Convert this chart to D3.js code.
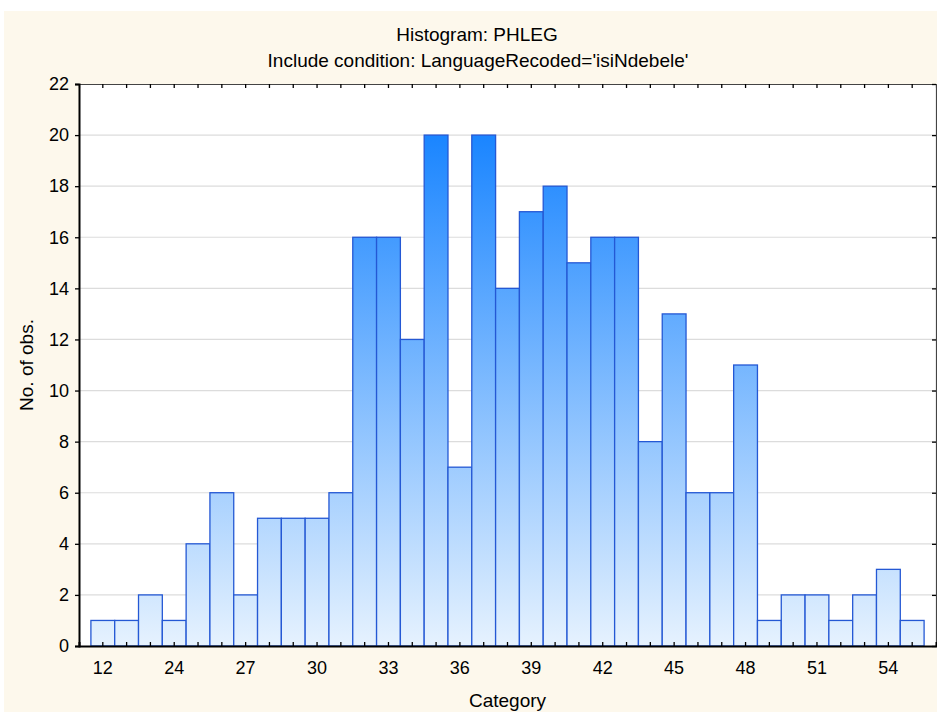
<!DOCTYPE html>
<html lang="en">
	<head>
		<meta charset="utf-8">
		<title>Histogram: PHLEG</title>
		<script type="text/javascript" src="https://d3js.org/d3.v7.min.js"></script>
		<style type="text/css">
			body { margin: 0; background: #ffffff; }
			text { font-family: "Liberation Sans", Arial, sans-serif; fill: #000; }
		</style>
	</head>
	<body>
		<script type="text/javascript">

			// data
			var categories = ["12", "22", "23", "24", "25", "26", "27", "28", "29", "30",
				"31", "32", "33", "34", "35", "36", "37", "38", "39", "40",
				"41", "42", "43", "44", "45", "46", "47", "48", "49", "50",
				"51", "52", "53", "54", "55"];
			var counts = [1, 1, 2, 1, 4, 6, 2, 5, 5, 5,
				6, 16, 16, 12, 20, 7, 20, 14, 17, 18,
				15, 16, 16, 8, 13, 6, 6, 11, 1, 2,
				2, 1, 2, 3, 1];
			var xTickLabels = ["12", "24", "27", "30", "33", "36", "39", "42", "45", "48", "51", "54"];
			var yTicks = [0, 2, 4, 6, 8, 10, 12, 14, 16, 18, 20, 22];

			var w = 937;
			var h = 713;
			var margin = {top: 84, right: 1, bottom: 67, left: 79};

			var svg = d3.select("body")
						.append("svg")
						.attr("width", w)
						.attr("height", h);

			// cream panel
			svg.append("rect")
				.attr("x", 4).attr("y", 11)
				.attr("width", w - 4).attr("height", h - 12)
				.attr("fill", "#fdf8ec");

			var x = d3.scaleBand()
				.domain(categories)
				.range([margin.left, w - margin.right])
				.paddingInner(0)
				.paddingOuter(0.5);

			var y = d3.scaleLinear()
				.domain([0, 22])
				.range([h - margin.bottom, margin.top]);

			// gradient for bars
			var defs = svg.append("defs");
			var grad = defs.append("linearGradient")
				.attr("id", "barGrad")
				.attr("gradientUnits", "userSpaceOnUse")
				.attr("x1", 0).attr("x2", 0)
				.attr("y1", y(0)).attr("y2", y(20));
			grad.append("stop").attr("offset", "0%").attr("stop-color", "#e6f2fe");
			grad.append("stop").attr("offset", "100%").attr("stop-color", "#1a85ff");

			// plot background
			svg.append("rect")
				.attr("x", margin.left).attr("y", margin.top)
				.attr("width", w - margin.right - margin.left)
				.attr("height", y(0) - margin.top)
				.attr("fill", "#ffffff");

			// grid
			svg.append("g")
				.selectAll("line")
				.data(yTicks.slice(1, -1))
				.enter()
				.append("line")
				.attr("x1", margin.left).attr("x2", w - margin.right)
				.attr("y1", function(d){ return y(d); })
				.attr("y2", function(d){ return y(d); })
				.attr("stroke", "#dcdcdc")
				.attr("stroke-width", 1.2);

			// bars
			svg.append("g")
				.selectAll("rect")
				.data(counts)
				.enter()
				.append("rect")
				.attr("x", function(d, i){ return x(categories[i]); })
				.attr("y", function(d){ return y(d); })
				.attr("width", x.bandwidth())
				.attr("height", function(d){ return y(0) - y(d); })
				.attr("fill", "url(#barGrad)")
				.attr("stroke", "#2458d4")
				.attr("stroke-width", 1.3);

			// axes
			var bottomAxis = d3.axisBottom(x)
				.tickSize(-4)
				.tickFormat(function(d){ return ""; });
			var topAxis = d3.axisTop(x)
				.tickSize(-4)
				.tickFormat(function(d){ return ""; });
			var leftAxis = d3.axisLeft(y)
				.tickValues(yTicks)
				.tickSize(4)
				.tickPadding(6)
				.tickFormat(d3.format("d"));
			var rightAxis = d3.axisRight(y)
				.tickValues(yTicks)
				.tickSize(-4)
				.tickFormat(function(d){ return ""; });

			var gTop = svg.append("g")
				.attr("transform", "translate(0," + margin.top + ")")
				.call(topAxis);
			var gRight = svg.append("g")
				.attr("transform", "translate(" + (w - margin.right) + ",0)")
				.call(rightAxis);
			var gBottom = svg.append("g")
				.attr("transform", "translate(0," + y(0) + ")")
				.call(bottomAxis);
			var gLeft = svg.append("g")
				.attr("transform", "translate(" + margin.left + ",0)")
				.call(leftAxis);

			[gTop, gRight, gBottom, gLeft].forEach(function(g){
				g.selectAll("line").attr("stroke", "#000").attr("stroke-width", 1.3);
				g.select(".domain").attr("stroke", "#000");
			});
			gTop.select(".domain").attr("stroke", "#444").attr("stroke-width", 1.2);
			gRight.select(".domain").attr("stroke", "#444").attr("stroke-width", 1.2);
			gBottom.select(".domain").attr("stroke-width", 2);
			gLeft.select(".domain").attr("stroke-width", 2);

			gLeft.selectAll("text")
				.style("font-size", "18px")
				.style("font-family", "Liberation Sans, Arial, sans-serif");

			// x tick labels: every third category
			var labelIdx = d3.range(0, categories.length, 3);
			svg.append("g")
				.selectAll("text")
				.data(labelIdx)
				.enter()
				.append("text")
				.attr("x", function(i){ return x(categories[i]) + x.bandwidth() / 2; })
				.attr("y", y(0) + 28)
				.attr("text-anchor", "middle")
				.style("font-size", "18px")
				.text(function(d, j){ return xTickLabels[j]; });

			// titles
			svg.append("text")
				.attr("x", 477).attr("y", 41)
				.attr("text-anchor", "middle")
				.style("font-size", "19px")
				.text("Histogram: PHLEG");
			svg.append("text")
				.attr("x", 478).attr("y", 67)
				.attr("text-anchor", "middle")
				.style("font-size", "19px")
				.text("Include condition: LanguageRecoded='isiNdebele'");

			svg.append("text")
				.attr("x", (margin.left + w - margin.right) / 2).attr("y", 707)
				.attr("text-anchor", "middle")
				.style("font-size", "19px")
				.text("Category");

			svg.append("text")
				.attr("transform", "translate(33," + ((margin.top + y(0)) / 2) + ") rotate(-90)")
				.attr("text-anchor", "middle")
				.style("font-size", "19px")
				.text("No. of obs.");
		</script>
	</body>
</html>
